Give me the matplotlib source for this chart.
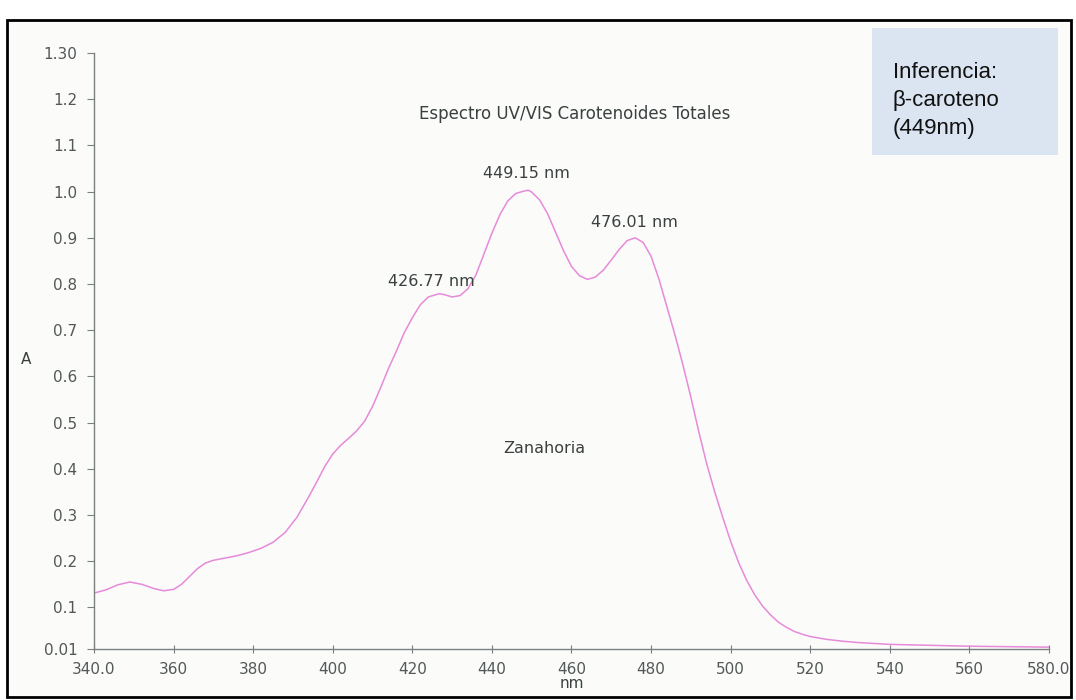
import matplotlib
matplotlib.use("Agg")
import matplotlib.pyplot as plt
from matplotlib.patches import Rectangle

# Absorption spectrum of total carotenoids (carrot extract)
wavelength_nm = [
    340, 343, 346, 349, 352, 355, 357.5, 360, 362, 364, 366, 368, 370, 373,
    376, 379, 382, 385, 388, 391, 394, 396, 398, 400, 402, 404, 406, 408,
    410, 412, 414, 416, 418, 420, 422, 424, 426.77, 428, 430, 432, 434, 436,
    438, 440, 442, 444, 446, 448, 449.15, 450, 452, 454, 456, 458, 460, 462,
    464, 466, 468, 470, 472, 474, 476.01, 478, 480, 482, 484, 486, 488, 490,
    492, 494, 496, 498, 500, 502, 504, 506, 508, 510, 512, 514, 516, 518,
    520, 524, 528, 532, 536, 540, 550, 560, 570, 580,
]
absorbance = [
    0.131, 0.138, 0.149, 0.155, 0.150, 0.141, 0.136, 0.139, 0.150, 0.167,
    0.184, 0.196, 0.202, 0.207, 0.212, 0.219, 0.228, 0.241, 0.262, 0.295,
    0.340, 0.372, 0.405, 0.432, 0.451, 0.466, 0.482, 0.503, 0.535, 0.575,
    0.617, 0.655, 0.695, 0.727, 0.755, 0.772, 0.779, 0.777, 0.772, 0.775,
    0.790, 0.820, 0.865, 0.910, 0.950, 0.980, 0.996, 1.001, 1.003, 0.999,
    0.982, 0.952, 0.912, 0.872, 0.838, 0.818, 0.810, 0.815, 0.830, 0.852,
    0.875, 0.894, 0.900, 0.890, 0.860, 0.810, 0.750, 0.690, 0.625, 0.555,
    0.480, 0.410, 0.350, 0.295, 0.243, 0.197, 0.159, 0.128, 0.103, 0.084,
    0.068, 0.057, 0.048, 0.042, 0.037, 0.031, 0.027, 0.024, 0.022, 0.020,
    0.018, 0.016, 0.015, 0.014,
]

x_ticks = [340, 360, 380, 400, 420, 440, 460, 480, 500, 520, 540, 560, 580]
x_tick_labels = ["340.0", "360", "380", "400", "420", "440", "460", "480",
                 "500", "520", "540", "560", "580.0"]
y_ticks = [0.01, 0.1, 0.2, 0.3, 0.4, 0.5, 0.6, 0.7, 0.8, 0.9, 1.0, 1.1, 1.2, 1.30]
y_tick_labels = ["0.01", "0.1", "0.2", "0.3", "0.4", "0.5", "0.6", "0.7",
                 "0.8", "0.9", "1.0", "1.1", "1.2", "1.30"]

peak_labels = ["426.77 nm", "449.15 nm", "476.01 nm"]
peak_label_pos = [(424.7, 0.806), (448.6, 1.040), (475.7, 0.934)]

title_text = "Espectro UV/VIS Carotenoides Totales"
sample_text = "Zanahoria"
note_text = "Inferencia:\nβ-caroteno\n(449nm)"

W, H = 1076, 700
fig = plt.figure(figsize=(W / 100, H / 100), dpi=100)
fig.patch.set_facecolor("white")

# page background and outer frame
fig.patches.append(Rectangle((7 / W, 1 - 697 / H), (1071 - 7) / W, (697 - 20) / H,
                             transform=fig.transFigure, facecolor="#fbfbfa",
                             edgecolor="none", zorder=-2))
fig.patches.append(Rectangle((7 / W, 1 - 697 / H), (1071 - 7) / W, (697 - 20) / H,
                             transform=fig.transFigure, fill=False,
                             edgecolor="black", linewidth=2.0, zorder=6))

ax = fig.add_axes([94 / W, 1 - 649 / H, (1049 - 94) / W, (649 - 53) / H])
ax.set_facecolor("none")

text_col = "#3a4040"
tick_col = "#525858"
axis_col = "#7a7f80"

ax.plot(wavelength_nm, absorbance, color="#e68ad9", linewidth=1.1)

ax.set_xlim(340, 580)
ax.set_ylim(0.01, 1.30)
ax.set_xticks(x_ticks)
ax.set_xticklabels(x_tick_labels)
ax.set_yticks(y_ticks)
ax.set_yticklabels(y_tick_labels)

for side in ("top", "right"):
    ax.spines[side].set_visible(False)
for side in ("left", "bottom"):
    ax.spines[side].set_color(axis_col)
    ax.spines[side].set_linewidth(1.0)

ax.tick_params(axis="y", direction="out", length=5, width=0.8, color=axis_col,
               labelcolor=tick_col, labelsize=11, pad=7)
ax.tick_params(axis="x", direction="inout", length=6, width=0.8, color=axis_col,
               labelcolor=tick_col, labelsize=11, pad=6)

ax.set_xlabel("nm", fontsize=11, color=text_col, labelpad=0)
fig.text(26 / W, 1 - 360 / H, "A", fontsize=11, color=text_col,
         ha="center", va="center")

ax.text(460.9, 1.168, title_text, fontsize=12, color=text_col,
        ha="center", va="center")
for lab, (px, py) in zip(peak_labels, peak_label_pos):
    ax.text(px, py, lab, fontsize=11.5, color=text_col, ha="center", va="center")
ax.text(453.1, 0.445, sample_text, fontsize=11.5, color=text_col,
        ha="center", va="center")

# note box
fig.patches.append(Rectangle((872 / W, 1 - 155 / H), (1058 - 872) / W, (155 - 28) / H,
                             transform=fig.transFigure, facecolor="#dbe5f1",
                             edgecolor="none", zorder=3))
fig.text(893 / W, 1 - 62 / H, note_text, fontsize=16, family="Liberation Sans",
         color="#111111", ha="left", va="top", linespacing=1.45, zorder=4)

fig.savefig("out.png", dpi=100)
